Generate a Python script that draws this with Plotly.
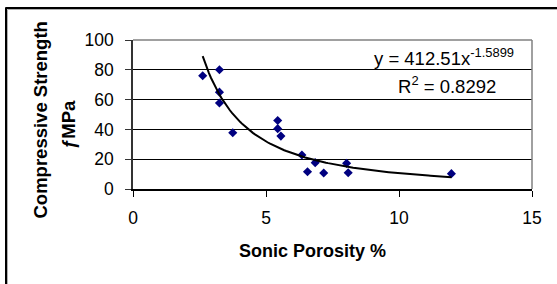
import numpy as np
import plotly.graph_objects as go

# Data
porosity = [2.62, 3.25, 3.25, 3.25, 3.75, 5.44, 5.44, 5.56, 6.35, 6.56, 6.85, 7.17, 8.03, 8.09, 11.97]
strength = [76, 80, 65, 57.7, 37.8, 46, 40.5, 35.5, 22.8, 11.6, 17.7, 10.7, 17.2, 10.9, 10.3]

# Power trendline as reported on the chart
coef_a = 412.51
coef_b = -1.5899
r_squared = 0.8292

x_tick_vals = [0, 5, 10, 15]
y_tick_vals = [0, 20, 40, 60, 80, 100]

FONT = "Liberation Sans, Arial, sans-serif"

xs = np.array(porosity)
trend_x = np.linspace(xs.min(), xs.max(), 120)
trend_y = coef_a * trend_x ** coef_b

fig = go.Figure()
fig.add_trace(go.Scatter(
    x=porosity, y=strength, mode="markers",
    marker=dict(symbol="diamond", size=7, color="#000080", line=dict(width=0)),
    showlegend=False, hoverinfo="skip"))
fig.add_trace(go.Scatter(
    x=trend_x, y=trend_y, mode="lines",
    line=dict(color="black", width=2), showlegend=False, hoverinfo="skip"))

L, R, T, B = 133, 25, 40, 95
PW, PH = 557 - L - R, 284 - T - B


def px_x(p):
    return (p - L) / PW


def px_y(p):
    return (284 - B - p) / PH


fig.update_layout(
    width=557, height=284,
    margin=dict(l=L, r=R, t=T, b=B, pad=0),
    paper_bgcolor="white", plot_bgcolor="white",
    font=dict(family=FONT, size=17, color="black"),
    xaxis=dict(range=[0, 15], tickvals=x_tick_vals, ticks="outside", ticklen=6,
               tickcolor="black", showline=True, linecolor="black", linewidth=1.5,
               showgrid=False, zeroline=False, ticklabelstandoff=6, automargin=False,
               tickfont=dict(family=FONT, size=17.5, color="black")),
    yaxis=dict(range=[0, 100], tickvals=y_tick_vals, ticks="outside", ticklen=6,
               tickcolor="#333333", showline=True, linecolor="#333333", linewidth=1.5,
               showgrid=True, gridcolor="black", gridwidth=1, zeroline=False,
               ticklabelstandoff=8, automargin=False,
               tickfont=dict(family=FONT, size=17.5, color="black")),
    shapes=[
        # plot area border (top, right) in gray
        dict(type="line", xref="paper", yref="paper", x0=0, x1=1, y0=1, y1=1,
             line=dict(color="#808080", width=1.5), layer="above"),
        dict(type="line", xref="paper", yref="paper", x0=1, x1=1, y0=0, y1=1,
             line=dict(color="#808080", width=1.5), layer="above"),
        # outer chart-area border (top and left visible)
        dict(type="line", xref="paper", yref="paper",
             x0=px_x(5.5), x1=px_x(560), y0=px_y(8), y1=px_y(8),
             line=dict(color="black", width=2), layer="above"),
        dict(type="line", xref="paper", yref="paper",
             x0=px_x(6), x1=px_x(6), y0=px_y(7.5), y1=px_y(290),
             line=dict(color="black", width=2), layer="above"),
        dict(type="line", xref="paper", yref="paper",
             x0=px_x(7.5), x1=px_x(560), y0=px_y(9.5), y1=px_y(9.5),
             line=dict(color="#b0b0b0", width=1), layer="above"),
        dict(type="line", xref="paper", yref="paper",
             x0=px_x(7.5), x1=px_x(7.5), y0=px_y(9.5), y1=px_y(290),
             line=dict(color="#b0b0b0", width=1), layer="above"),
    ],
    annotations=[
        dict(text="Sonic Porosity %", xref="paper", yref="paper",
             x=px_x(312.5), y=px_y(251), xanchor="center", yanchor="middle",
             showarrow=False, font=dict(family=FONT, size=18, color="black", weight="bold")),
        dict(text="Compressive Strength", xref="paper", yref="paper",
             x=px_x(39.5), y=px_y(120), xanchor="center", yanchor="middle",
             textangle=-90, showarrow=False,
             font=dict(family=FONT, size=18.5, color="black", weight="bold")),
        dict(text="ƒMPa", xref="paper", yref="paper",
             x=px_x(68), y=px_y(125), xanchor="center", yanchor="middle",
             textangle=-90, showarrow=False,
             font=dict(family=FONT, size=18.5, color="black", weight="bold")),
        dict(text=f"y = {coef_a}x<sup>{coef_b}</sup>", xref="paper", yref="paper",
             x=px_x(444), y=px_y(57), xanchor="center", yanchor="middle",
             showarrow=False, font=dict(family=FONT, size=18.5, color="black")),
        dict(text=f"R<sup>2</sup> = {r_squared}", xref="paper", yref="paper",
             x=px_x(446.5), y=px_y(85), xanchor="center", yanchor="middle",
             showarrow=False, font=dict(family=FONT, size=18.5, color="black")),
    ],
)

fig.write_html("out.html", config={"displayModeBar": False},
               post_script="document.body.style.margin='0';document.body.style.padding='0';")
